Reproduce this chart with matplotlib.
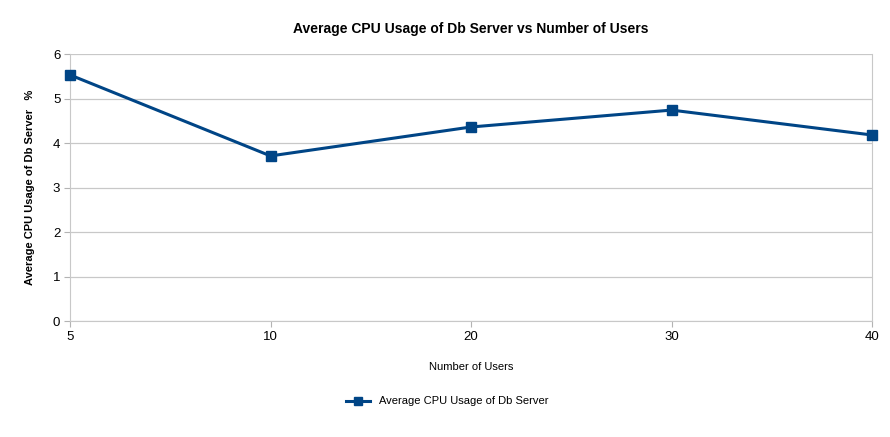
import matplotlib.pyplot as plt
import numpy as np

users = ['5', '10', '20', '30', '40']
cpu_usage = [5.53, 3.71, 4.36, 4.74, 4.18]
y_ticks = [0, 1, 2, 3, 4, 5, 6]

plt.rcParams['font.family'] = ['Liberation Sans', 'DejaVu Sans']

fig = plt.figure(figsize=(8.9, 4.37), dpi=100)
ax = fig.add_axes([0.0787, 0.2654, 0.9011, 0.611])

x = np.arange(len(users))
ax.plot(x, cpu_usage, color='#004586', lw=2.2, marker='s', markersize=7,
        label='Average CPU Usage of Db Server', clip_on=False, zorder=3)

ax.set_xlim(0, len(users) - 1)
ax.set_ylim(0, 6)
ax.set_xticks(x)
ax.set_xticklabels(users)
ax.set_yticks(y_ticks)
ax.tick_params(axis='both', labelsize=9.5, color='#b3b3b3', length=4, pad=3)
ax.grid(axis='y', color='#c8c8c8', lw=0.9)
ax.grid(axis='x', visible=False)
ax.spines['top'].set_visible(False)
for s in ['left', 'bottom', 'right']:
    ax.spines[s].set_color('#c8c8c8')

ax.set_title('Average CPU Usage of Db Server vs Number of Users',
             fontsize=10, fontweight='bold', pad=15)
ax.set_xlabel('Number of Users', fontsize=8, labelpad=14)
ax.set_ylabel('Average CPU Usage of Db Server   %', fontsize=8,
              fontweight='bold', labelpad=13)

ax.legend(loc='upper center', bbox_to_anchor=(0.47, -0.245), frameon=False,
          fontsize=8, handlelength=2.2, markerscale=0.8)

plt.savefig('out.png', dpi=100)
